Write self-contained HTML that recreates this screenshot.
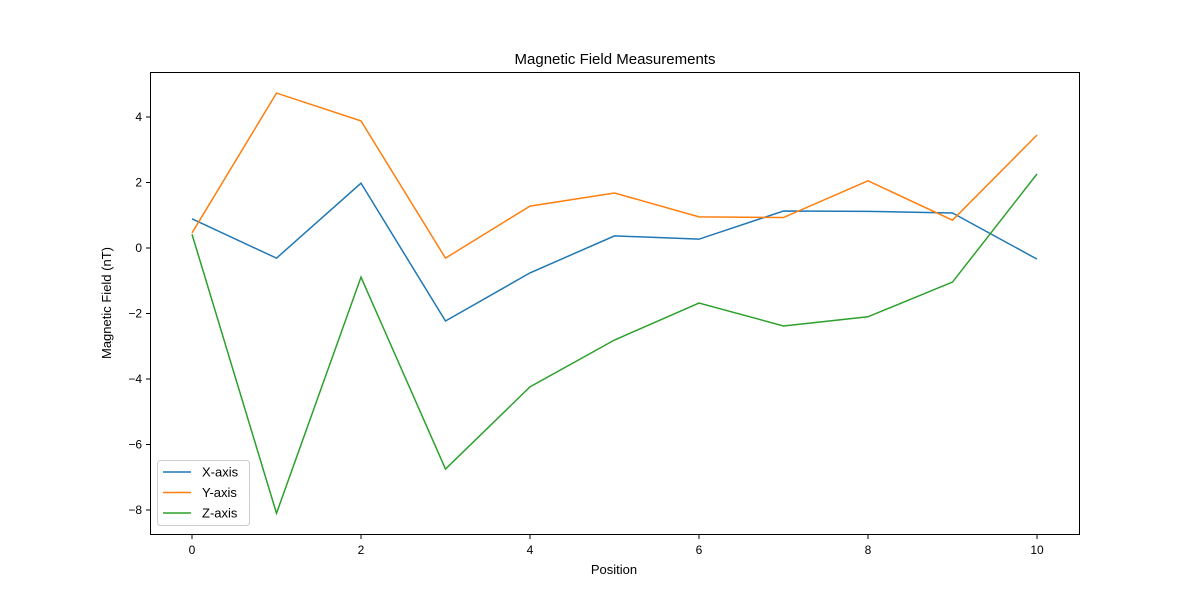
<!DOCTYPE html>
<html><head><meta charset="utf-8"><style>
body{margin:0;background:#fff;}
svg text{font-family:"Liberation Sans","DejaVu Sans",sans-serif;fill:#000;}
</style></head><body>
<svg id="chart" width="1200" height="600">
<rect width="1200" height="600" fill="#fff"/>
<text x="615" y="64" font-size="15" text-anchor="middle">Magnetic Field Measurements</text>
<g id="grid"></g>
<g id="lines"></g>
<rect x="150.5" y="72.5" width="929" height="462" fill="none" stroke="#000" stroke-width="1"/>
<g id="ticks"></g>
<text x="614" y="574" font-size="13" text-anchor="middle">Position</text>
<text x="111" y="303" font-size="13" text-anchor="middle" transform="rotate(-90 111 303)">Magnetic Field (nT)</text>
<g>
<rect x="157.5" y="460.5" width="92" height="65" rx="3" fill="#fff" stroke="#ccc"/>
<g id="legend"></g>
</g>
</svg>
<script>
const positions=[0,1,2,3,4,5,6,7,8,9,10];
const xAxisVals=[0.89,-0.31,1.98,-2.23,-0.76,0.37,0.27,1.13,1.12,1.07,-0.34];
const yAxisVals=[0.46,4.73,3.88,-0.31,1.28,1.68,0.95,0.93,2.05,0.85,3.45];
const zAxisVals=[0.42,-8.1,-0.89,-6.75,-4.24,-2.81,-1.68,-2.38,-2.1,-1.04,2.26];
const xTicks=[0,2,4,6,8,10];
const yTicks=[-8,-6,-4,-2,0,2,4];
const seriesNames=["X-axis","Y-axis","Z-axis"];
const colors=["#1f77b4","#ff7f0e","#2ca02c"];
const NS="http://www.w3.org/2000/svg";
function sx(v){return 192+v*84.5;}
function sy(v){return 248-v*32.75;}
function mk(tag,attrs,parent){const e=document.createElementNS(NS,tag);for(const k in attrs)e.setAttribute(k,attrs[k]);parent.appendChild(e);return e;}
const ticks=document.getElementById('ticks');
xTicks.forEach(t=>{
 const l=mk('line',{x1:sx(t),x2:sx(t),y1:535,y2:539,stroke:'#000'},ticks);
 
 
 const tx=mk('text',{x:sx(t),y:554,'font-size':12,'text-anchor':'middle'},ticks);
 tx.textContent=t;
 
 
});
yTicks.forEach(t=>{
 const l=mk('line',{x1:146,x2:150,y1:sy(t),y2:sy(t),stroke:'#000'},ticks);
 
 
 const tx=mk('text',{x:142,y:sy(t)+4,'font-size':12,'text-anchor':'end'},ticks);
 tx.textContent=t<0?'\u2212'+(-t):t;
 
 
});
const lines=document.getElementById('lines');
[xAxisVals,yAxisVals,zAxisVals].forEach((s,i)=>{
 const p=mk('polyline',{points:s.map((v,j)=>sx(positions[j])+','+sy(v)).join(' '),fill:'none',stroke:colors[i],'stroke-width':1.5},lines);
 
 
});
const lg=document.getElementById('legend');
seriesNames.forEach((n,i)=>{
 const y=472+i*20.5;
 const l=mk('line',{x1:163,x2:191,y1:y,y2:y,stroke:colors[i],'stroke-width':1.5},lg);
 
 
 const t=mk('text',{x:202,y:y+4.5,'font-size':13},lg);
 t.textContent=n;
 
 
});
</script>
</body></html>
